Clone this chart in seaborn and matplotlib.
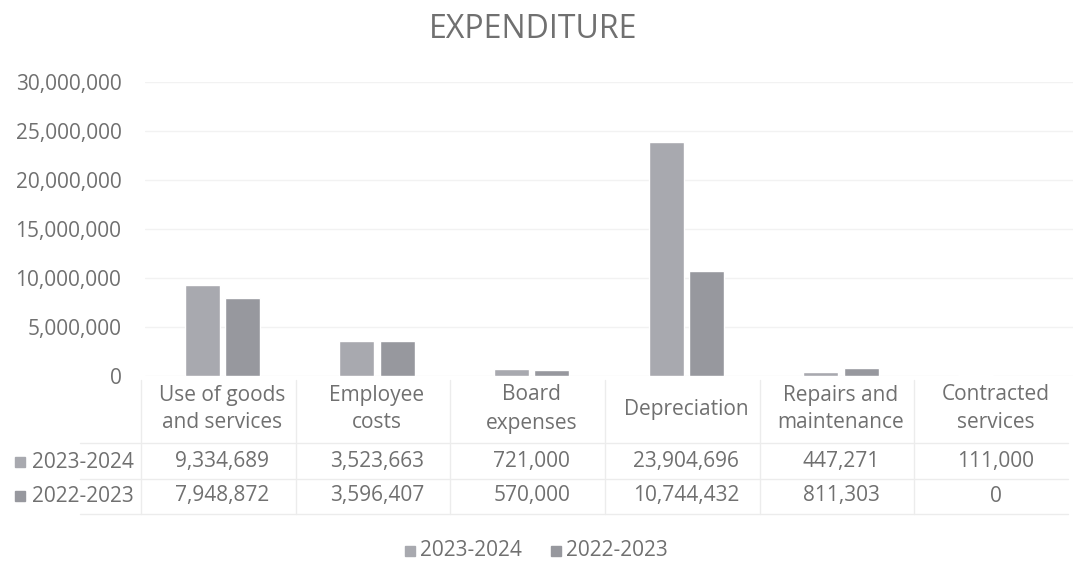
import pandas as pd
import matplotlib.pyplot as plt
import matplotlib.transforms as mtransforms
from matplotlib.patches import Rectangle
import seaborn as sns

categories = ["Use of goods\nand services", "Employee\ncosts", "Board\nexpenses",
              "Depreciation", "Repairs and\nmaintenance", "Contracted\nservices"]
series = ["2023-2024", "2022-2023"]
values_2024 = [9334689, 3523663, 721000, 23904696, 447271, 111000]
values_2023 = [7948872, 3596407, 570000, 10744432, 811303, 0]
y_ticks = [0, 5000000, 10000000, 15000000, 20000000, 25000000, 30000000]

colors = ["#a8a9af", "#97989e"]
text_color = "#707070"
line_color = "#ececec"
fs = 15

df = pd.DataFrame({
    "category": categories * 2,
    "series": [series[0]] * len(categories) + [series[1]] * len(categories),
    "value": values_2024 + values_2023,
})

sns.set_theme(style="white")
plt.rcParams["font.family"] = ["Open Sans", "DejaVu Sans"]

fig = plt.figure(figsize=(10.73, 5.8), dpi=100)
x0, x1 = 145, 1073
ax = fig.add_axes([x0 / 1073, 1 - 376 / 580, (x1 - x0) / 1073, (376 - 82) / 580])

sns.barplot(data=df, x="category", y="value", hue="series", palette=colors,
            width=0.52, gap=0.13, ax=ax, legend=False, saturation=1)

ax.set_ylim(0, 30000000)
ax.set_xlim(-0.5, 5.5)
ax.set_yticks(y_ticks)
ax.set_yticklabels([f"{v:,}" for v in y_ticks], color=text_color, fontsize=fs)
ax.tick_params(axis="y", length=0, pad=17)
ax.tick_params(axis="x", length=0)
ax.set_xticks([])
ax.grid(axis="y", color="#f2f2f2", linewidth=1)
ax.set_axisbelow(True)
ax.set_xlabel("")
ax.set_ylabel("")
for s in ax.spines.values():
    s.set_visible(False)

fig.text(533 / 1073, 1 - 30 / 580, "EXPENDITURE", ha="center", va="center",
         fontsize=23, color=text_color)

# data table below the bars
trans = mtransforms.blended_transform_factory(ax.transData, fig.transFigure)
for i, cat in enumerate(categories):
    lines = cat.split("\n")
    if len(lines) == 2:
        fig_y = [1 - 395 / 580, 1 - 423 / 580]
    else:
        fig_y = [1 - 409 / 580]
    for ln, yy in zip(lines, fig_y):
        ax.text(i, yy, ln, transform=trans, ha="center", va="center",
                fontsize=fs, color=text_color, clip_on=False)
    ax.text(i, 1 - 462 / 580, f"{values_2024[i]:,}", transform=trans, ha="center",
            va="center", fontsize=fs, color=text_color, clip_on=False)
    ax.text(i, 1 - 496 / 580, f"{values_2023[i]:,}", transform=trans, ha="center",
            va="center", fontsize=fs, color=text_color, clip_on=False)

row_y = [1 - 462 / 580, 1 - 496 / 580]
for name, col, yy in zip(series, colors, row_y):
    fig.add_artist(Rectangle((15 / 1073, yy - 5 / 580), 10 / 1073, 10 / 580,
                             transform=fig.transFigure, color=col))
    fig.text(32 / 1073, yy, name, ha="left", va="center", fontsize=fs, color=text_color)

# faint table rules
for yy in [443, 479, 514]:
    fig.add_artist(plt.Line2D([80 / 1073, 1068 / 1073], [1 - yy / 580] * 2,
                              transform=fig.transFigure, color=line_color, linewidth=1))
for k in range(6):
    xx = (x0 - 4 + k * (x1 - x0) / 6) / 1073
    fig.add_artist(plt.Line2D([xx, xx], [1 - 380 / 580, 1 - 514 / 580],
                              transform=fig.transFigure, color=line_color, linewidth=1))

# legend
for name, col, lx in zip(series, colors, [405, 551]):
    fig.add_artist(Rectangle((lx / 1073, 1 - 556 / 580), 10 / 1073, 10 / 580,
                             transform=fig.transFigure, color=col))
    fig.text((lx + 15) / 1073, 1 - 551 / 580, name, ha="left", va="center",
             fontsize=fs, color=text_color)

fig.savefig("out.png", dpi=100, facecolor="white")
